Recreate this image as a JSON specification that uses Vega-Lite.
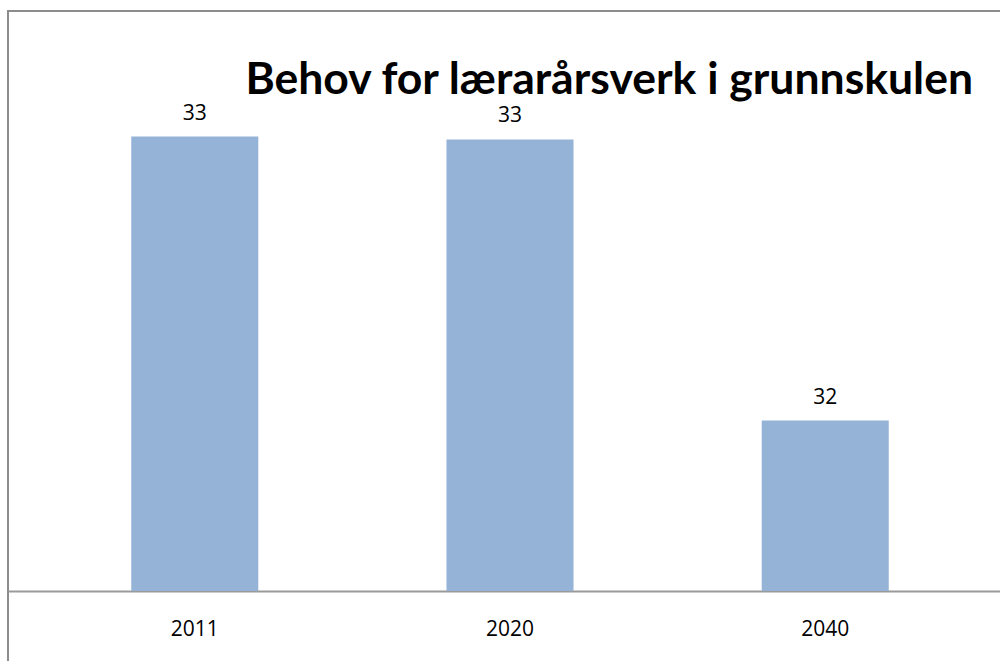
{
  "$schema": "https://vega.github.io/schema/vega-lite/v6.json",
  "autosize": "none",
  "padding": {"left": 8, "top": 11, "right": 0, "bottom": 0},
  "width": 1004,
  "height": 659,
  "background": "white",
  "title": {
    "text": "Behov for lærarårsverk i grunnskulen",
    "anchor": "end",
    "frame": "group",
    "orient": "top",
    "font": "Lato",
    "fontWeight": "bold",
    "fontSize": 44.5,
    "color": "black",
    "baseline": "alphabetic",
    "offset": 0,
    "dx": -39,
    "dy": 127
  },
  "config": {
    "view": {"stroke": "#8c8c8c", "strokeWidth": 2},
    "font": "Open Sans"
  },
  "data": {
    "values": [
      {"year": "2011", "value": 33.0},
      {"year": "2020", "value": 32.99},
      {"year": "2040", "value": 32.0}
    ]
  },
  "encoding": {
    "x": {
      "field": "year",
      "type": "ordinal",
      "scale": {"paddingInner": 0.597, "paddingOuter": 0.391},
      "axis": {
        "title": null,
        "labelAngle": 0,
        "ticks": false,
        "offset": -79,
        "domainColor": "#9a9a9a",
        "domainWidth": 2,
        "labelFont": "Open Sans",
        "labelFontSize": 21,
        "labelColor": "black",
        "labelPadding": 27,
        "grid": false
      }
    },
    "y": {
      "field": "value",
      "type": "quantitative",
      "scale": {"domain": [31.122, 33.442], "nice": false, "zero": false},
      "axis": null
    }
  },
  "layer": [
    {
      "mark": {"type": "bar", "color": "#95B3D7"},
      "encoding": {"y2": {"datum": 31.4}}
    },
    {
      "mark": {"type": "text", "baseline": "alphabetic", "dy": -17, "fontSize": 21, "font": "Open Sans", "color": "black"},
      "encoding": {"text": {"field": "value", "type": "quantitative", "format": ".0f"}}
    }
  ]
}
